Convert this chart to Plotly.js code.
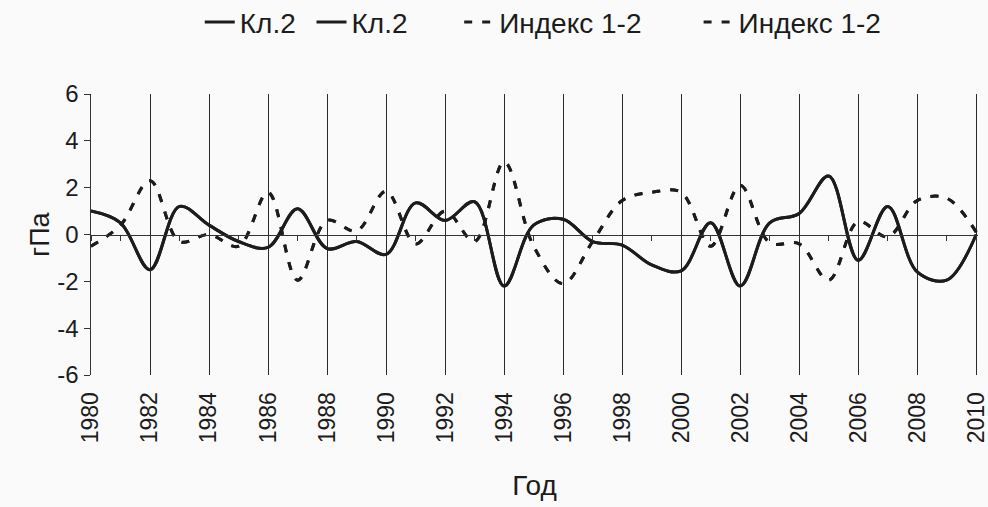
<!DOCTYPE html>
<html>
<head>
<meta charset="utf-8">
<script src="https://cdn.plot.ly/plotly-3.0.1.min.js"></script>
<style>
html,body{margin:0;padding:0;background:#fafafa;}
#chart{width:988px;height:507px;}
</style>
</head>
<body>
<div id="chart"></div>
<script>
const years = [1980,1981,1982,1983,1984,1985,1986,1987,1988,1989,1990,1991,1992,1993,1994,1995,1996,1997,1998,1999,2000,2001,2002,2003,2004,2005,2006,2007,2008,2009,2010];
const kl2 = [1.0,0.5,-1.5,1.2,0.4,-0.3,-0.55,1.1,-0.6,-0.3,-0.85,1.35,0.6,1.4,-2.2,0.4,0.65,-0.3,-0.45,-1.3,-1.55,0.5,-2.2,0.5,0.9,2.5,-1.1,1.2,-1.6,-1.95,0.0];
const index12 = [-0.5,0.4,2.3,-0.3,0.0,-0.5,1.8,-1.95,0.6,0.15,1.85,-0.4,1.0,-0.3,3.1,-0.5,-2.1,-0.3,1.45,1.8,1.8,-0.5,2.1,-0.35,-0.4,-1.95,0.55,-0.1,1.45,1.55,0.1];
const xTickVals = [1980,1982,1984,1986,1988,1990,1992,1994,1996,1998,2000,2002,2004,2006,2008,2010];
const xTickText = ['1980','1982','1984','1986','1988','1990','1992','1994','1996','1998','2000','2002','2004','2006','2008','2010'];
const yTickVals = [-6,-4,-2,0,2,4,6];
const yTickText = ['-6','-4','-2','0','2','4','6'];
const seriesNames = ['Кл.2','Кл.2','Индекс 1-2','Индекс 1-2'];

const ink = '#1c1c1c';
const solid = {color: ink, width: 3, shape: 'spline', smoothing: 1};
const dashed = {color: ink, width: 3, shape: 'spline', smoothing: 1, dash: '8px,10px'};

const traces = [
  {x: years, y: kl2, name: seriesNames[0], mode: 'lines', line: solid, xaxis: 'x', yaxis: 'y', legend: 'legend'},
  {x: years, y: kl2, name: seriesNames[1], mode: 'lines', line: solid, xaxis: 'x2', yaxis: 'y', legend: 'legend2'},
  {x: years, y: index12, name: seriesNames[2], mode: 'lines', line: dashed, xaxis: 'x', yaxis: 'y', legend: 'legend3'},
  {x: years, y: index12, name: seriesNames[3], mode: 'lines', line: dashed, xaxis: 'x2', yaxis: 'y', legend: 'legend4'}
];

const xr = [1980, 2010.06];
const legBase = {orientation: 'h', xanchor: 'left', y: 1.255, yanchor: 'middle',
                 font: {size: 28}, bgcolor: 'rgba(0,0,0,0)'};

const layout = {
  width: 988, height: 507,
  paper_bgcolor: '#fafafa', plot_bgcolor: '#fafafa',
  margin: {l: 91, r: 10, t: 94, b: 132, autoexpand: false},
  font: {family: '"Liberation Sans", Arial, sans-serif', size: 24, color: ink},
  showlegend: true,
  legend: Object.assign({}, legBase, {x: 0.1226}),
  legend2: Object.assign({}, legBase, {x: 0.2486}),
  legend3: Object.assign({}, legBase, {x: 0.4151}),
  legend4: Object.assign({}, legBase, {x: 0.685}),
  xaxis: {range: xr, tickmode: 'array', tickvals: xTickVals, ticktext: xTickText,
          tickangle: -90, showgrid: true, gridcolor: '#2a2a2a', gridwidth: 1,
          showline: false, zeroline: false, ticks: 'outside', ticklen: 7,
          tickcolor: 'rgba(0,0,0,0)', automargin: false, ticklabeloverflow: 'allow',
          tickfont: {size: 23},
          title: {text: 'Год', font: {size: 28}, standoff: 33}},
  xaxis2: {overlaying: 'x', anchor: 'free', position: 0.5, range: xr,
           showline: true, linecolor: '#333', linewidth: 1.5, ticks: 'outside', ticklen: 5,
           tickcolor: '#333', tickmode: 'linear', tick0: 1980, dtick: 1,
           showticklabels: false, showgrid: false, zeroline: false},
  yaxis: {range: [-6, 6], tickmode: 'array', tickvals: yTickVals, ticktext: yTickText,
          showline: true, linecolor: '#333', linewidth: 1.5, ticks: 'outside', ticklen: 6,
          tickcolor: '#333', showgrid: false, zeroline: false, automargin: false,
          tickfont: {size: 24},
          title: {text: 'гПа', font: {size: 27}, standoff: 0}}
};

Plotly.newPlot('chart', traces, layout, {displayModeBar: false, staticPlot: true});
</script>
</body>
</html>
